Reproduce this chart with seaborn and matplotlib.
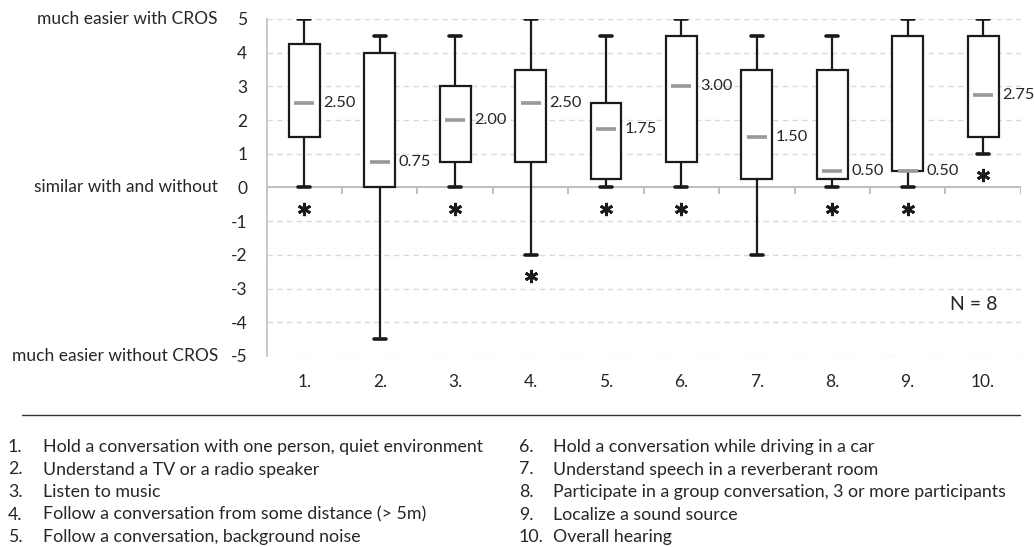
import pandas as pd
import matplotlib
matplotlib.use("Agg")
import matplotlib.pyplot as plt
from matplotlib.lines import Line2D
import seaborn as sns

sns.set_theme(style="white")
plt.rcParams['font.family'] = ['Lato', 'DejaVu Sans']
plt.rcParams['axes.unicode_minus'] = False

# five-number summaries per item (min, q1, median, q3, max)
items = ["1.", "2.", "3.", "4.", "5.", "6.", "7.", "8.", "9.", "10."]
lows = [0, -4.5, 0, -2, 0, 0, -2, 0, 0, 1]
q1s = [1.5, 0, 0.75, 0.75, 0.25, 0.75, 0.25, 0.25, 0.5, 1.5]
medians = [2.5, 0.75, 2.0, 2.5, 1.75, 3.0, 1.5, 0.5, 0.5, 2.75]
q3s = [4.25, 4.0, 3.0, 3.5, 2.5, 4.5, 3.5, 3.5, 4.5, 4.5]
highs = [5, 4.5, 4.5, 5, 4.5, 5, 4.5, 4.5, 5, 5]
significant = [True, False, True, True, True, True, False, True, True, True]

descriptions = [
    "Hold a conversation with one person, quiet environment",
    "Understand a TV or a radio speaker",
    "Listen to music",
    "Follow a conversation from some distance (> 5m)",
    "Follow a conversation, background noise",
    "Hold a conversation while driving in a car",
    "Understand speech in a reverberant room",
    "Participate in a group conversation, 3 or more participants",
    "Localize a sound source",
    "Overall hearing",
]

rows = []
for i, it in enumerate(items):
    for v in (lows[i], q1s[i], medians[i], q3s[i], highs[i]):
        rows.append({"item": it, "score": v})
df = pd.DataFrame(rows)

txt = "#262626"
grey = "#bfbfbf"
fs = 12.5

fig = plt.figure(figsize=(10.34, 5.47), dpi=100)
ax = fig.add_axes([0.2579, 0.3492, 0.7293, 0.6161])

sns.boxplot(data=df, x="item", y="score", order=items, whis=(0, 100),
            width=0.41, color="white", linecolor="#1a1a1a", linewidth=1.6,
            capwidths=0.16, showfliers=False,
            medianprops={"visible": False},
            capprops={"linewidth": 2.6}, ax=ax)

pos = list(range(len(items)))
ax.scatter(pos, medians, marker="_", s=190, linewidths=2.6, color="#999999", zorder=5)
for p, m in zip(pos, medians):
    ax.annotate(f"{m:.2f}", (p + 0.205, m), xytext=(2.5, 0), textcoords="offset points",
                va="center", ha="left", fontsize=11.8, color=txt, annotation_clip=False)

star_y = [lo - 0.63 for lo, s in zip(lows, significant) if s]
star_x = [p for p, s in zip(pos, significant) if s]
ax.plot(star_x, star_y, linestyle="none", marker=(6, 2, 0), markersize=9.5,
        markeredgewidth=2, color="#1a1a1a", zorder=5)

ax.set_ylim(-5, 5)
ax.set_xlim(-0.5, len(items) - 0.5)
ax.set_yticks(range(-5, 6))
ax.yaxis.grid(True, linestyle=(0, (4, 3)), color="#d9d9d9", linewidth=1)
ax.set_axisbelow(True)
ax.axhline(0, color=grey, linewidth=1.4, zorder=1)
ax.vlines([b - 0.5 for b in range(len(items) + 1)], -0.18, 0, color=grey, linewidth=1.4)

for s in ["top", "right", "bottom"]:
    ax.spines[s].set_visible(False)
ax.spines["left"].set_color(grey)
ax.spines["left"].set_linewidth(1.2)
ax.tick_params(axis="y", length=3, color=grey, pad=11, labelsize=fs, labelcolor=txt)
ax.tick_params(axis="x", length=0, pad=13, labelsize=fs, labelcolor=txt)
ax.set_xlabel("")
ax.set_ylabel("")

ytr = ax.get_yaxis_transform()
for yv, lab in [(5, "much easier with CROS"), (0, "similar with and without"),
                (-5, "much easier without CROS")]:
    ax.text(-0.0646, yv, lab, transform=ytr, ha="right", va="center", fontsize=fs, color=txt)

ax.text(0.937, 0.153, "N = 8", transform=ax.transAxes, ha="center", va="center",
        fontsize=14, color=txt)

fig.add_artist(Line2D([22 / 1034, 1020 / 1034], [1 - 415 / 547, 1 - 415 / 547],
                      color="#333333", linewidth=1))

row_y = [447, 469.5, 492, 514.5, 537]
for i, d in enumerate(descriptions):
    col = i // 5
    yy = 1 - row_y[i % 5] / 547
    xn = 8 / 1034 if col == 0 else 519 / 1034
    xt = 43 / 1034 if col == 0 else 553 / 1034
    fig.text(xn, yy, f"{i + 1}.", ha="left", va="center", fontsize=12.8, color=txt)
    fig.text(xt, yy, d, ha="left", va="center", fontsize=12.8, color=txt)

fig.savefig("out.png", dpi=100)
